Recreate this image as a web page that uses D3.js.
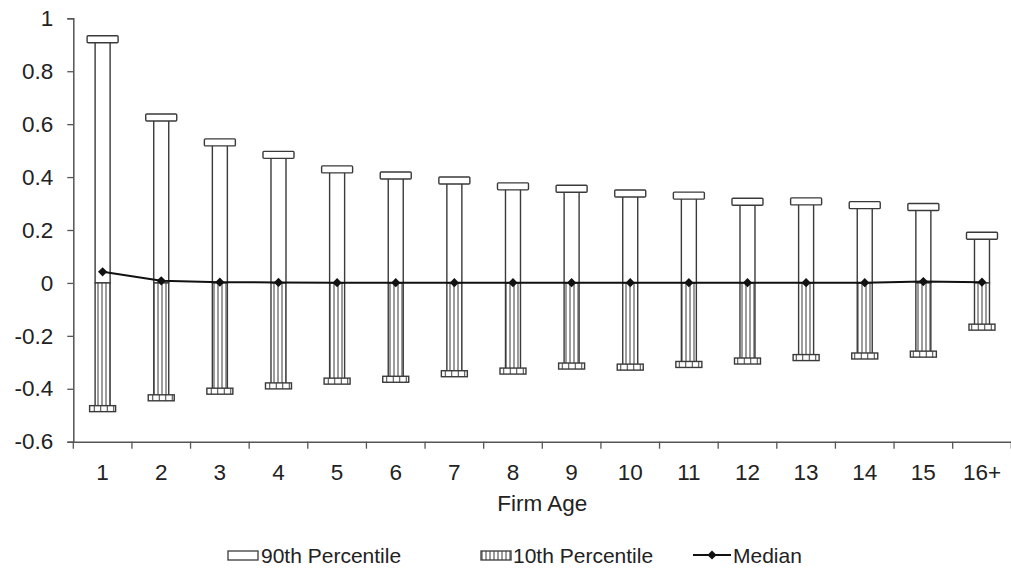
<!DOCTYPE html>
<html>
<head>
<meta charset="utf-8">
<script src="https://cdn.jsdelivr.net/npm/d3@7/dist/d3.min.js"></script>
<style>
  body { margin: 0; background: #fff; }
  svg { display: block; }
  text { font-family: "Liberation Sans", Arial, sans-serif; fill: #222; }
</style>
</head>
<body>
<div id="chart"></div>
<script>
(function () {
    'use strict';

    // firm age categories and percentile values
    var ages = ['1', '2', '3', '4', '5', '6', '7', '8', '9', '10', '11', '12', '13', '14', '15', '16+'];
    var p90 = [0.921, 0.625, 0.531, 0.484, 0.429, 0.406, 0.387, 0.365, 0.356, 0.338, 0.330, 0.307, 0.308, 0.294, 0.287, 0.178];
    var p10 = [-0.477, -0.436, -0.411, -0.391, -0.373, -0.366, -0.345, -0.335, -0.316, -0.320, -0.310, -0.297, -0.284, -0.278, -0.271, -0.169];
    var median = [0.042, 0.008, 0.003, 0.002, 0.001, 0.001, 0.001, 0.001, 0.001, 0.001, 0.001, 0.001, 0.001, 0.001, 0.005, 0.003];
    var yTicks = [-0.6, -0.4, -0.2, 0, 0.2, 0.4, 0.6, 0.8, 1];
    var legendLabels = ['90th Percentile', '10th Percentile', 'Median'];

    var w = 1011, h = 571;
    var ink = '#3a3a3a';
    var axisFont = 22.5, legendFont = 21;

    var svg = d3.select('#chart').append('svg')
        .attr('width', w)
        .attr('height', h);

    var defs = svg.append('defs');
    function stripes(id, step) {
        var p = defs.append('pattern')
            .attr('id', id)
            .attr('patternUnits', 'userSpaceOnUse')
            .attr('width', step)
            .attr('height', 10);
        p.append('rect').attr('width', step).attr('height', 10).attr('fill', '#fff');
        p.append('line')
            .attr('x1', step / 2).attr('x2', step / 2)
            .attr('y1', 0).attr('y2', 10)
            .attr('stroke', ink).attr('stroke-width', 1);
    }
    stripes('barStripes', 4);
    stripes('capStripes', 6.5);

    var x = d3.scaleBand().domain(ages).range([73.3, 1011.3]);
    var y = d3.scaleLinear().domain([-0.6, 1]).range([441.7, 18.3]);

    var barW = 15, capW90 = 31, capW10 = 26, capH = 7;
    function cx(d) { return x(d) + x.bandwidth() / 2; }

    var rows = ages.map(function (a, i) {
        return { age: a, hi: p90[i], lo: p10[i], med: median[i] };
    });

    var g = svg.append('g');

    // 90th percentile bars with caps
    g.selectAll('.hi').data(rows).enter().append('rect')
        .attr('class', 'hi')
        .attr('x', function (d) { return cx(d.age) - barW / 2; })
        .attr('y', function (d) { return y(d.hi); })
        .attr('width', barW)
        .attr('height', function (d) { return y(0) - y(d.hi); })
        .attr('fill', '#fff').attr('stroke', ink).attr('stroke-width', 1.4);

    g.selectAll('.hicap').data(rows).enter().append('rect')
        .attr('class', 'hicap')
        .attr('x', function (d) { return cx(d.age) - capW90 / 2; })
        .attr('y', function (d) { return y(d.hi) - capH / 2; })
        .attr('width', capW90)
        .attr('height', capH)
        .attr('rx', 1)
        .attr('fill', '#fff').attr('stroke', ink).attr('stroke-width', 1.4);

    // 10th percentile bars with caps
    g.selectAll('.lo').data(rows).enter().append('rect')
        .attr('class', 'lo')
        .attr('x', function (d) { return cx(d.age) - barW / 2; })
        .attr('y', y(0))
        .attr('width', barW)
        .attr('height', function (d) { return y(d.lo) - y(0); })
        .attr('fill', 'url(#barStripes)').attr('stroke', ink).attr('stroke-width', 1.4);

    g.selectAll('.locap').data(rows).enter().append('rect')
        .attr('class', 'locap')
        .attr('x', function (d) { return cx(d.age) - capW10 / 2; })
        .attr('y', function (d) { return y(d.lo) - capH / 2; })
        .attr('width', capW10)
        .attr('height', capH - 1)
        .attr('fill', 'url(#capStripes)').attr('stroke', ink).attr('stroke-width', 1.4);

    // median line
    var line = d3.line()
        .x(function (d) { return cx(d.age); })
        .y(function (d) { return y(d.med); });
    g.append('path').datum(rows)
        .attr('d', line)
        .attr('fill', 'none').attr('stroke', '#111').attr('stroke-width', 2);

    var diamond = d3.symbol().type(d3.symbolSquare).size(42);
    g.selectAll('.med').data(rows).enter().append('path')
        .attr('class', 'med')
        .attr('d', diamond)
        .attr('transform', function (d) { return 'translate(' + cx(d.age) + ',' + y(d.med) + ') rotate(45)'; })
        .attr('fill', '#111');

    // y axis
    var yAxis = d3.axisLeft(y)
        .tickValues(yTicks)
        .tickSize(6)
        .tickPadding(14)
        .tickFormat(function (d) { return String(+d.toFixed(1)); });
    var ya = svg.append('g')
        .attr('transform', 'translate(73.3,0)')
        .call(yAxis);
    ya.select('.domain').attr('stroke', '#555').attr('stroke-width', 1.5);
    ya.selectAll('.tick line').attr('stroke', '#555').attr('stroke-width', 1.3);
    ya.selectAll('text')
        .attr('font-size', axisFont)
        .style('font-family', '"Liberation Sans", Arial, sans-serif')
        .attr('fill', '#222');

    // x axis: labels centered in bands, ticks on band edges
    var xAxis = d3.axisBottom(x).tickSize(0).tickPadding(22);
    var xa = svg.append('g')
        .attr('transform', 'translate(0,' + y(-0.6) + ')')
        .call(xAxis);
    xa.select('.domain').attr('stroke', '#555').attr('stroke-width', 1.5);
    xa.selectAll('text')
        .attr('font-size', axisFont)
        .style('font-family', '"Liberation Sans", Arial, sans-serif')
        .attr('fill', '#222');

    xa.selectAll('.edge').data(d3.range(ages.length + 1)).enter().append('line')
        .attr('class', 'edge')
        .attr('x1', function (i) { return x.range()[0] + i * x.step(); })
        .attr('x2', function (i) { return x.range()[0] + i * x.step(); })
        .attr('y1', 0).attr('y2', 7)
        .attr('stroke', '#555').attr('stroke-width', 1.3);

    svg.append('text')
        .attr('x', (x.range()[0] + x.range()[1]) / 2)
        .attr('y', 511)
        .attr('text-anchor', 'middle')
        .attr('font-size', axisFont)
        .text('Firm Age');

    // legend
    var leg = svg.append('g').attr('class', 'legend');
    var ly = 555;
    leg.append('rect')
        .attr('x', 228).attr('y', ly - 4).attr('width', 30).attr('height', 9)
        .attr('fill', '#fff').attr('stroke', ink).attr('stroke-width', 1.3);
    leg.append('text').attr('x', 261).attr('y', ly + 8).attr('font-size', legendFont).text(legendLabels[0]);

    leg.append('rect')
        .attr('x', 481).attr('y', ly - 4).attr('width', 30).attr('height', 9)
        .attr('fill', 'url(#barStripes)').attr('stroke', ink).attr('stroke-width', 1.3);
    leg.append('text').attr('x', 513).attr('y', ly + 8).attr('font-size', legendFont).text(legendLabels[1]);

    leg.append('line')
        .attr('x1', 693).attr('x2', 731).attr('y1', ly).attr('y2', ly)
        .attr('stroke', '#111').attr('stroke-width', 2);
    leg.append('path')
        .attr('d', diamond)
        .attr('transform', 'translate(712,' + ly + ') rotate(45)')
        .attr('fill', '#111');
    leg.append('text').attr('x', 733).attr('y', ly + 8).attr('font-size', legendFont).text(legendLabels[2]);
})();
</script>
</body>
</html>
